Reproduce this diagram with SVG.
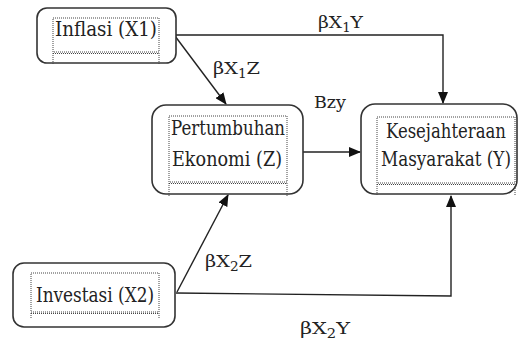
<svg xmlns="http://www.w3.org/2000/svg" width="522" height="340" viewBox="0 0 522 340">
<style>
.box{fill:#fff;stroke:#333;stroke-width:1.6}
.dot{fill:none;stroke:#444;stroke-width:1;stroke-dasharray:1,1}
.t{font-family:'DejaVu Serif','Liberation Serif',serif;font-size:20px;fill:#222;text-anchor:middle}
.l{font-family:'DejaVu Serif','Liberation Serif',serif;font-size:17px;fill:#222}
.c{fill:none;stroke:#222;stroke-width:1.4}
</style>
<defs>
<marker id="ah" markerWidth="12" markerHeight="10" refX="11" refY="5" orient="auto" markerUnits="userSpaceOnUse">
<path d="M0,0 L12,5 L0,10 z" fill="#111"/>
</marker>
</defs>
<rect width="522" height="340" fill="#fff"/>
<g id="connectors">
<polyline class="c" points="176,35 443,35 443,103" marker-end="url(#ah)"/>
<line class="c" x1="175" y1="36" x2="226" y2="104" marker-end="url(#ah)"/>
<line class="c" x1="303" y1="152" x2="360" y2="152" marker-end="url(#ah)"/>
<line class="c" x1="177" y1="292" x2="228" y2="195" marker-end="url(#ah)"/>
<polyline class="c" points="176,293 451,296 451,196" marker-end="url(#ah)"/>
<text class="l" x="318" y="28" textLength="45" lengthAdjust="spacingAndGlyphs">βX<tspan font-size="12" dy="4">1</tspan><tspan dy="-4">Y</tspan></text>
<text class="l" x="213" y="74" textLength="47" lengthAdjust="spacingAndGlyphs">βX<tspan font-size="12" dy="4">1</tspan><tspan dy="-4">Z</tspan></text>
<text class="l" x="314" y="108" textLength="32" lengthAdjust="spacingAndGlyphs">Bzy</text>
<text class="l" x="205" y="267" textLength="47" lengthAdjust="spacingAndGlyphs">βX<tspan font-size="12" dy="4">2</tspan><tspan dy="-4">Z</tspan></text>
<text class="l" x="300" y="334" textLength="50" lengthAdjust="spacingAndGlyphs">βX<tspan font-size="12" dy="4">2</tspan><tspan dy="-4">Y</tspan></text>
</g>
<g id="inflasi">
<rect class="box" x="37" y="8" width="139" height="55" rx="10"/>
<rect class="dot" x="53" y="18" width="106" height="34"/>
<line class="dot" x1="53" y1="53.5" x2="159" y2="53.5"/>
<line class="dot" x1="53" y1="53" x2="53" y2="65"/>
<line class="dot" x1="159" y1="53" x2="159" y2="65"/>
<text class="t" x="106" y="36" textLength="102" lengthAdjust="spacingAndGlyphs">Inflasi (X1)</text>
</g>
<g id="pertumbuhan">
<rect class="box" x="152" y="105" width="151" height="89" rx="14"/>
<rect class="dot" x="169" y="116" width="118" height="66"/>
<line class="dot" x1="169" y1="183.5" x2="287" y2="183.5"/>
<line class="dot" x1="169" y1="183" x2="169" y2="196"/>
<line class="dot" x1="287" y1="183" x2="287" y2="196"/>
<text class="t" x="228" y="135" textLength="114" lengthAdjust="spacingAndGlyphs">Pertumbuhan</text>
<text class="t" x="227" y="166" textLength="110" lengthAdjust="spacingAndGlyphs">Ekonomi (Z)</text>
</g>
<g id="kesejahteraan">
<rect class="box" x="361" y="104" width="156" height="90" rx="14"/>
<rect class="dot" x="377" y="117" width="138" height="66"/>
<line class="dot" x1="377" y1="184.5" x2="515" y2="184.5"/>
<line class="dot" x1="377" y1="184" x2="377" y2="196"/>
<line class="dot" x1="515" y1="184" x2="515" y2="196"/>
<text class="t" x="446" y="138" font-size="18" textLength="120" lengthAdjust="spacingAndGlyphs">Kesejahteraan</text>
<text class="t" x="446" y="166" font-size="16.5" textLength="130" lengthAdjust="spacingAndGlyphs">Masyarakat (Y)</text>
</g>
<g id="investasi">
<rect class="box" x="13" y="263" width="162" height="64" rx="11"/>
<rect class="dot" x="31" y="273" width="128" height="39"/>
<line class="dot" x1="31" y1="313.5" x2="159" y2="313.5"/>
<line class="dot" x1="31" y1="313" x2="31" y2="319"/>
<line class="dot" x1="159" y1="313" x2="159" y2="319"/>
<text class="t" x="95" y="302" textLength="118" lengthAdjust="spacingAndGlyphs">Investasi (X2)</text>
</g>
</svg>
